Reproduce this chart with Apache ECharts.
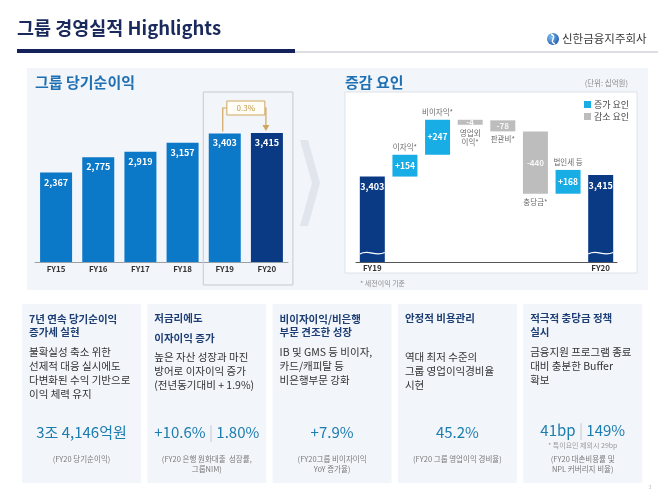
<!DOCTYPE html>
<html><head><meta charset="utf-8">
<script src="https://cdn.jsdelivr.net/npm/echarts@6/dist/echarts.min.js"></script>
<style>html,body{margin:0;padding:0;background:#fff}#c{width:658px;height:493px}</style>
</head><body><div id="c"></div>
<script>
const FONT = '"Noto Sans CJK KR", "Noto Sans", sans-serif';

// ---- left chart data ----
const years = ['FY15', 'FY16', 'FY17', 'FY18', 'FY19', 'FY20'];
const netIncome = [2367, 2775, 2919, 3157, 3403, 3415];
const growthLabel = '0.3%';

// ---- waterfall data ----
const wfCategories = ['FY19', '이자익', '비이자익', '영업외이익', '판관비', '충당금', '법인세 등', 'FY20'];
const wfStart = 3403;
const wfEnd = 3415;
const wfDeltas = [154, 247, -4, -78, -440, 168];
const wfNames = ['이자익*', '비이자익*', '영업외\n이익*', '판관비*', '충당금*', '법인세 등'];

// ---- card texts ----
const cardHeads = [['7년 연속 당기순이익', '증가세 실현'], ['저금리에도', '이자이익 증가'], ['비이자이익/비은행', '부문 견조한 성장'], ['안정적 비용관리'], ['적극적 충당금 정책', '실시']];
const cardBodies = [
  ['불확실성 축소 위한', '선제적 대응 실시에도', '다변화된 수익 기반으로', '이익 체력 유지'],
  ['높은 자산 성장과 마진', '방어로 이자이익 증가', '(전년동기대비 + 1.9%)'],
  ['IB 및 GMS 등 비이자,', '카드/캐피탈 등', '비은행부문 강화'],
  ['역대 최저 수준의', '그룹 영업이익경비율', '시현'],
  ['금융지원 프로그램 종료', '대비 충분한 Buffer', '확보']
];
const cardValues = [['3조 4,146억원'], ['+10.6%', '1.80%'], ['+7.9%'], ['45.2%'], ['41bp', '149%']];
const cardCaptions = [['(FY20 당기순이익)'], ['(FY20 은행 원화대출  성장률,', '그룹NIM)'], ['(FY20그룹 비이자이익', 'YoY 증가율)'], ['(FY20 그룹 영업이익 경비율)'], ['(FY20 대손비용률 및', 'NPL 커버리지 비율)']];
const cardNotes = ['', '', '', '', '* 특이요인 제외시 29bp'];

// ---- build waterfall series arrays (two stacks: increases, decreases) ----
let cum = wfStart;
const baseInc = ['-'], baseDec = ['-'], wfInc = ['-'], wfDec = ['-'], wfLabelPts = ['-'];
wfDeltas.forEach((d, i) => {
  const prev = cum; cum += d;
  baseInc.push(d > 0 ? prev : '-');
  baseDec.push(d < 0 ? prev : '-');
  wfInc.push(d > 0 ? d : '-');
  wfDec.push(d < 0 ? d : '-');
  wfLabelPts.push({
    value: d > 0 ? Math.max(prev, cum) : Math.min(prev, cum),
    label: { position: d > 0 ? 'top' : 'bottom', distance: (d < 0 && Math.abs(d) < 20) ? 8 : 3, formatter: wfNames[i] }
  });
});
[baseInc, baseDec, wfInc, wfDec, wfLabelPts].forEach(a => a.push('-'));
const wfTotal = wfCategories.map((c, i) => i === 0 ? wfStart : (i === wfCategories.length - 1 ? wfEnd : '-'));

const chart = echarts.init(document.getElementById('c'), null, { renderer: 'canvas', width: 658, height: 493 });

const BLUE = '#0b78c8', NAVY = '#0b3a85', CYAN = '#19ade6', GRAY = '#bdbdbd';
const wfBar = { type: 'bar', xAxisIndex: 1, yAxisIndex: 1, barWidth: 25, barGap: '-100%', stackStrategy: 'all' };

chart.setOption({
  animation: false,
  textStyle: { fontFamily: FONT },
  legend: {
    data: ['증가 요인', '감소 요인'], orient: 'vertical', left: 579, top: 95,
    itemWidth: 7, itemHeight: 7, itemGap: 3, icon: 'rect',
    textStyle: { fontSize: 9, color: '#444', fontFamily: FONT, padding: [0, 0, 0, -2] }
  },
  grid: [
    { left: 35, right: 370, top: 92, bottom: 231 },
    { left: 356, right: 41, top: 92, bottom: 231 }
  ],
  xAxis: [
    { type: 'category', gridIndex: 0, data: years, axisTick: { show: false },
      axisLine: { lineStyle: { color: '#9aa0a8' } },
      axisLabel: { margin: 3, fontSize: 8, fontWeight: 'bold', color: '#333', fontFamily: FONT } },
    { type: 'category', gridIndex: 1, data: wfCategories, axisTick: { show: false },
      axisLine: { lineStyle: { color: '#555' } },
      axisLabel: { interval: 0, margin: 2, fontSize: 8, fontWeight: 'bold', color: '#333', fontFamily: FONT,
        formatter: (v, i) => (i === 0 || i === wfCategories.length - 1) ? v : '' } }
  ],
  yAxis: [
    { type: 'value', gridIndex: 0, min: 0, max: 4500, show: false, splitLine: { show: false } },
    { type: 'value', gridIndex: 1, min: 2800, max: 4000, show: false, splitLine: { show: false } }
  ],
  series: [
    { type: 'bar', xAxisIndex: 0, yAxisIndex: 0, barWidth: 32,
      data: netIncome.map((v, i) => ({ value: v, itemStyle: { color: i === netIncome.length - 1 ? NAVY : BLUE } })),
      label: { show: true, position: 'insideTop', distance: 5, color: '#fff', fontSize: 9, fontWeight: 'bold', fontFamily: FONT,
        formatter: p => p.value.toLocaleString('en-US') } },
    Object.assign({}, wfBar, { name: 'baseInc', stack: 'inc', itemStyle: { color: 'transparent' }, data: baseInc, silent: true }),
    Object.assign({}, wfBar, { name: '증가 요인', stack: 'inc', itemStyle: { color: CYAN }, data: wfInc,
      label: { show: true, position: 'inside', color: '#fff', fontSize: 8.5, fontWeight: 'bold', fontFamily: FONT, formatter: p => '+' + p.value } }),
    Object.assign({}, wfBar, { name: 'baseDec', stack: 'dec', itemStyle: { color: 'transparent' }, data: baseDec, silent: true }),
    Object.assign({}, wfBar, { name: '감소 요인', stack: 'dec', barMinHeight: 5, itemStyle: { color: GRAY }, data: wfDec,
      label: { show: true, position: 'inside', color: '#f6f6f6', fontSize: 8, fontWeight: 'bold', fontFamily: FONT, formatter: p => String(p.value) } }),
    Object.assign({}, wfBar, { name: 'total', stackStrategy: undefined, itemStyle: { color: NAVY }, data: wfTotal,
      label: { show: true, position: 'insideTop', distance: 6, color: '#fff', fontSize: 9, fontWeight: 'bold', fontFamily: FONT,
        formatter: p => p.value.toLocaleString('en-US') } }),
    { name: 'names', type: 'scatter', xAxisIndex: 1, yAxisIndex: 1, symbolSize: 1, itemStyle: { color: 'rgba(0,0,0,0)' },
      data: wfLabelPts, silent: true,
      label: { show: true, color: '#444', fontSize: 7.5, lineHeight: 9, fontFamily: FONT } }
  ]
});

// ---- graphics (decorations & text) ----
function T(text, x, y, size, color, weight, align, extra) {
  return Object.assign({ type: 'text', z: 20, style: Object.assign({
    text: text, x: x, y: y, fontSize: size, fill: color, fontWeight: weight || 'normal',
    fontFamily: FONT, align: align || 'left', verticalAlign: 'middle' }, extra || {}) });
}
const g = [];
// header
g.push(T('그룹 경영실적 Highlights', 17, 28, 18.5, '#1b2a5c', 'bold'));
g.push({ type: 'rect', z: 5, shape: { x: 17, y: 51.5, width: 641, height: 1 }, style: { fill: '#b7bcc6' } });
g.push({ type: 'rect', z: 6, shape: { x: 17, y: 49, width: 278, height: 4 }, style: { fill: '#13235a' } });
g.push({ type: 'circle', z: 6, shape: { cx: 553, cy: 39, r: 6 }, style: { fill: new echarts.graphic.RadialGradient(0.35, 0.35, 0.8, [{ offset: 0, color: '#7cc0f0' }, { offset: 1, color: '#1a4fa8' }]) } });
g.push({ type: 'bezierCurve', z: 7, shape: { x1: 551, y1: 34, x2: 555, y2: 44, cpx1: 558, cpy1: 37, cpx2: 548, cpy2: 41 }, style: { stroke: '#fff', lineWidth: 1.4, fill: null } });
g.push(T('신한금융지주회사', 562, 39, 11.5, '#3a3a3a', 'normal'));
// top panel background
g.push({ type: 'rect', z: -10, shape: { x: 27, y: 68, width: 621, height: 222 }, style: { fill: '#f2f5fa' } });
g.push(T('그룹 당기순이익', 35, 82, 15, '#1f70b3', 'bold'));
// chevron
g.push({ type: 'polygon', z: -5, shape: { points: [[300, 140], [308, 140], [320, 183], [308, 226], [300, 226], [312, 183]] }, style: { fill: '#e1e5ec' } });
// waterfall plot box
g.push({ type: 'rect', z: -5, shape: { x: 345, y: 92, width: 292, height: 181 }, style: { fill: '#ffffff', stroke: '#dde2ea', lineWidth: 1 } });
g.push(T('증감 요인', 345, 82, 15, '#1f70b3', 'bold'));
g.push(T('(단위: 십억원)', 628, 83, 7.5, '#8a8a8a', 'normal', 'right'));
g.push(T('* 세전이익 기준', 360, 283, 7, '#8a8a8a', 'normal'));

// highlight box & growth annotation (positions from the axes)
const p19 = chart.convertToPixel({ gridIndex: 0 }, [years[4], netIncome[4]]);
const p20 = chart.convertToPixel({ gridIndex: 0 }, [years[5], netIncome[5]]);
g.push({ type: 'rect', z: 1, shape: { x: p19[0] - 21.5, y: 92, width: (p20[0] + 26) - (p19[0] - 21.5), height: 193 }, style: { fill: null, stroke: '#c5cad2', lineWidth: 1 } });
const GOLD = '#cfa75e';
const ay = 108, bx1 = (p19[0] + p20[0]) / 2 - 19, bx2 = (p19[0] + p20[0]) / 2 + 19;
g.push({ type: 'polyline', z: 8, shape: { points: [[p19[0] - 2, p19[1] - 2], [p19[0] - 2, ay], [bx1, ay]] }, style: { stroke: GOLD, lineWidth: 1.2, fill: null } });
g.push({ type: 'polyline', z: 8, shape: { points: [[bx2, ay], [p20[0] - 1, ay], [p20[0] - 1, p20[1] - 7]] }, style: { stroke: GOLD, lineWidth: 1.2, fill: null } });
g.push({ type: 'polygon', z: 8, shape: { points: [[p20[0] - 4.5, p20[1] - 8], [p20[0] + 2.5, p20[1] - 8], [p20[0] - 1, p20[1] - 2]] }, style: { fill: GOLD } });
g.push({ type: 'rect', z: 9, shape: { x: bx1, y: ay - 7, width: bx2 - bx1, height: 14 }, style: { fill: '#fffdf6', stroke: GOLD, lineWidth: 1 } });
g.push(T(growthLabel, (bx1 + bx2) / 2, ay, 8, '#c49a4c', 'normal', 'center'));

// wavy breaks on waterfall total bars
[0, wfCategories.length - 1].forEach(i => {
  const p = chart.convertToPixel({ gridIndex: 1 }, [wfCategories[i], 2800]);
  const y = p[1] - 9, x0 = p[0] - 12.5, x1 = p[0] + 12.5;
  g.push({ type: 'bezierCurve', z: 10, shape: { x1: x0, y1: y + 1, x2: x1, y2: y - 0.5, cpx1: x0 + 9, cpy1: y - 4, cpx2: x0 + 15, cpy2: y + 4 }, style: { stroke: '#ffffff', lineWidth: 1.3, fill: null } });
});

// cards
const cardX = [22, 147.3, 272.6, 397.9, 523.2], cardW = 119;
const headY = [[319, 332], [318, 338], [319, 332], [318], [318, 332]];
const bodyY = [[352, 366, 380, 394], [357, 371, 385], [352, 366, 380], [357, 371, 385], [352, 366, 380]];
cardX.forEach((x, k) => {
  g.push({ type: 'rect', z: -10, shape: { x: x, y: 304, width: cardW, height: 179 }, style: { fill: '#f2f5fa' } });
  cardHeads[k].forEach((t, j) => g.push(T(t, x + 7, headY[k][j], 10.5, '#1c3e74', 'bold')));
  cardBodies[k].forEach((t, j) => g.push(T(t, x + 7, bodyY[k][j], 10.5, '#333333', 'normal')));
  const vals = cardValues[k];
  const txt = vals.length > 1 ? '{v|' + vals[0] + '} {s||} {v|' + vals[1] + '}' : '{v|' + vals[0] + '}';
  g.push(T(txt, x + cardW / 2, k === 4 ? 430 : 432, 15, '#1b7cae', 'normal', 'center', {
    rich: { v: { fontSize: 15, fill: '#1b7cae', fontFamily: FONT }, s: { fontSize: 15, fill: '#c8ccd2', fontFamily: FONT } } }));
  if (cardNotes[k]) g.push(T(cardNotes[k], x + cardW / 2, 445, 7, '#9a9a9a', 'normal', 'center'));
  cardCaptions[k].forEach((t, j) => g.push(T(t, x + cardW / 2, 459 + j * 10, 7.5, '#7a7a7a', 'normal', 'center')));
});
g.push(T('3', 650, 487, 5, '#bbbbbb', 'normal', 'center'));

chart.setOption({ graphic: g });
</script>
</body></html>
